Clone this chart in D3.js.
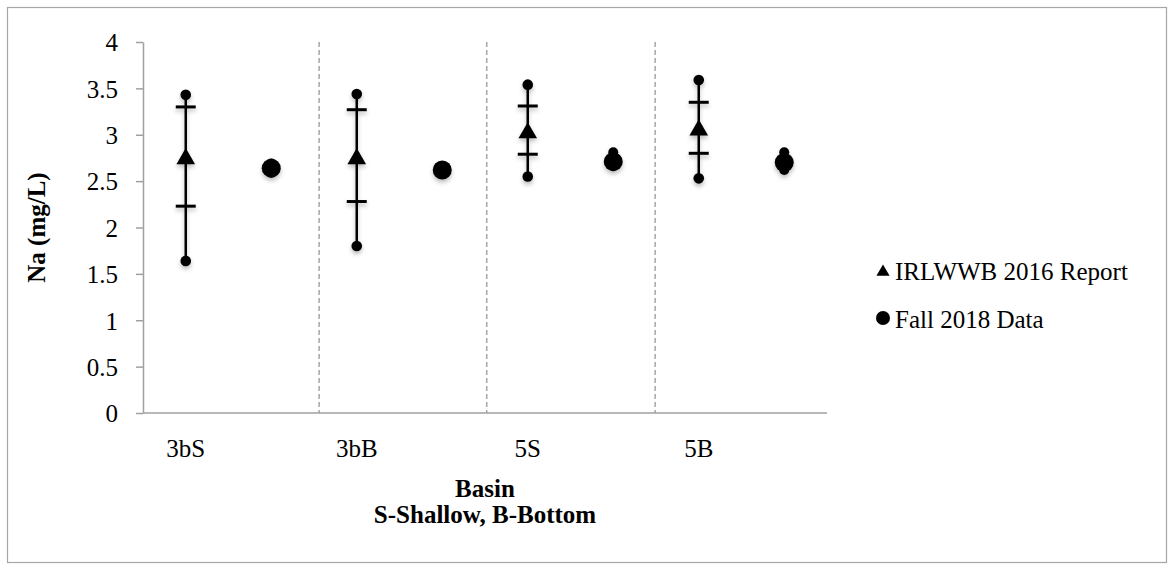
<!DOCTYPE html>
<html>
<head>
<meta charset="utf-8">
<script src="https://cdn.jsdelivr.net/npm/d3@7"></script>
<style>
  body { margin: 0; background: #fff; }
  text { font-family: "Liberation Serif", "Times New Roman", serif; fill: #000; }
</style>
</head>
<body>
<svg id="chart" width="1172" height="570"></svg>
<script>
// basins and values (mg/L)
var basins = ["3bS", "3bB", "5S", "5B"];
var yTicks = [0, 0.5, 1, 1.5, 2, 2.5, 3, 3.5, 4];

// IRLWWB 2016 report: mean, inner bar low/high, outer min/max
var reportMean = [2.74, 2.74, 3.02, 3.05];
var reportLow  = [2.23, 2.28, 2.79, 2.80];
var reportHigh = [3.30, 3.27, 3.31, 3.35];
var reportMin  = [1.64, 1.80, 2.55, 2.53];
var reportMax  = [3.43, 3.44, 3.54, 3.59];

// Fall 2018 data: mean, min, max
var fallMean = [2.64, 2.62, 2.71, 2.70];
var fallMin  = [2.59, 2.61, 2.66, 2.62];
var fallMax  = [2.69, 2.63, 2.81, 2.81];

var seriesNames = ["IRLWWB 2016 Report", "Fall 2018 Data"];

var svg = d3.select("#chart");

// outer frame
svg.append("rect")
  .attr("x", 7.5).attr("y", 7.5)
  .attr("width", 1159).attr("height", 555)
  .attr("fill", "none")
  .attr("stroke", "#a6a6a6")
  .attr("stroke-width", 1.2);

var plotL = 143, plotR = 827, plotT = 42, plotB = 413;

// 8 slots: report + fall for each basin
var slots = d3.range(basins.length * 2);
var x = d3.scaleBand().domain(slots).range([plotL, plotR]).padding(0);
var xs = d3.scaleLinear().domain([0, slots.length]).range([plotL, plotR]);
var y = d3.scaleLinear().domain([0, 4]).range([plotB, plotT]);

function cx(i) { return x(i) + x.bandwidth() / 2; }

// soft shadow like the original
var defs = svg.append("defs");
var f = defs.append("filter").attr("id", "shadow")
  .attr("x", "-50%").attr("y", "-50%").attr("width", "200%").attr("height", "200%");
f.append("feDropShadow").attr("dx", 0).attr("dy", 3)
  .attr("stdDeviation", 2).attr("flood-color", "#000").attr("flood-opacity", 0.25);

// basin separators
svg.selectAll(".sep")
  .data([2.06, 4.02, 5.99])
  .enter().append("line")
  .attr("x1", function(d) { return xs(d); })
  .attr("x2", function(d) { return xs(d); })
  .attr("y1", plotT).attr("y2", plotB)
  .attr("stroke", "#a6a6a6")
  .attr("stroke-width", 1.5)
  .attr("stroke-dasharray", "5,3");

// y axis
var yAxis = d3.axisLeft(y).tickValues(yTicks).tickSize(7).tickSizeOuter(0)
  .tickFormat(function(d) { return d; });
var gy = svg.append("g").attr("transform", "translate(" + plotL + ",0)").call(yAxis);
gy.select(".domain").attr("stroke", "#a0a0a0").attr("stroke-width", 1.5);
gy.selectAll(".tick line").attr("stroke", "#a0a0a0").attr("stroke-width", 1.5);
gy.selectAll(".tick text")
  .attr("x", -25)
  .attr("dy", "0.35em")
  .style("font-family", "Liberation Serif")
  .style("font-size", "25px");

// x axis line
svg.append("line")
  .attr("x1", plotL).attr("x2", plotR)
  .attr("y1", plotB).attr("y2", plotB)
  .attr("stroke", "#a0a0a0").attr("stroke-width", 1.5);

// x tick labels
svg.selectAll(".xlab")
  .data(basins)
  .enter().append("text")
  .attr("x", function(d, i) { return cx(i * 2); })
  .attr("y", 457)
  .attr("text-anchor", "middle")
  .style("font-size", "25px")
  .text(function(d) { return d; });

// axis titles
svg.append("text")
  .attr("transform", "translate(45," + ((plotT + plotB) / 2) + ") rotate(-90)")
  .attr("text-anchor", "middle")
  .style("font-size", "25px").style("font-weight", "bold")
  .text("Na (mg/L)");

svg.append("text")
  .attr("x", (plotL + plotR) / 2).attr("y", 497)
  .attr("text-anchor", "middle")
  .style("font-size", "25px").style("font-weight", "bold")
  .text("Basin");
svg.append("text")
  .attr("x", (plotL + plotR) / 2).attr("y", 523)
  .attr("text-anchor", "middle")
  .style("font-size", "25px").style("font-weight", "bold")
  .text("S-Shallow, B-Bottom");

var tri = d3.symbol().type(d3.symbolTriangle).size(150);
var triSmall = d3.symbol().type(d3.symbolTriangle).size(75);

// IRLWWB report series
var rep = svg.append("g").attr("filter", "url(#shadow)");
basins.forEach(function(b, i) {
  var px = cx(i * 2);
  rep.append("line")
    .attr("x1", px).attr("x2", px)
    .attr("y1", y(reportMin[i])).attr("y2", y(reportMax[i]))
    .attr("stroke", "#000").attr("stroke-width", 2.5);
  [reportLow[i], reportHigh[i]].forEach(function(v) {
    rep.append("line")
      .attr("x1", px - 10).attr("x2", px + 10)
      .attr("y1", y(v)).attr("y2", y(v))
      .attr("stroke", "#000").attr("stroke-width", 3);
  });
  [reportMin[i], reportMax[i]].forEach(function(v) {
    rep.append("circle")
      .attr("cx", px).attr("cy", y(v)).attr("r", 5.3)
      .attr("fill", "#000");
  });
  rep.append("path")
    .attr("d", tri)
    .attr("transform", "translate(" + px + "," + y(reportMean[i]) + ")")
    .attr("fill", "#000");
});

// Fall 2018 series
var fall = svg.append("g").attr("filter", "url(#shadow)");
basins.forEach(function(b, i) {
  var px = cx(i * 2 + 1);
  fall.append("line")
    .attr("x1", px).attr("x2", px)
    .attr("y1", y(fallMin[i])).attr("y2", y(fallMax[i]))
    .attr("stroke", "#000").attr("stroke-width", 2.5);
  [fallMin[i], fallMax[i]].forEach(function(v) {
    fall.append("circle")
      .attr("cx", px).attr("cy", y(v)).attr("r", 5)
      .attr("fill", "#000");
  });
  fall.append("circle")
    .attr("cx", px).attr("cy", y(fallMean[i])).attr("r", 9.5)
    .attr("fill", "#000");
});

// legend
var legend = svg.append("g");
legend.append("path")
  .attr("d", triSmall)
  .attr("transform", "translate(883,272)")
  .attr("fill", "#000");
legend.append("text")
  .attr("x", 895).attr("y", 280)
  .style("font-size", "25px")
  .text(seriesNames[0]);
legend.append("circle")
  .attr("cx", 883).attr("cy", 318).attr("r", 7)
  .attr("fill", "#000");
legend.append("text")
  .attr("x", 895).attr("y", 328)
  .style("font-size", "25px")
  .text(seriesNames[1]);
</script>
</body>
</html>
